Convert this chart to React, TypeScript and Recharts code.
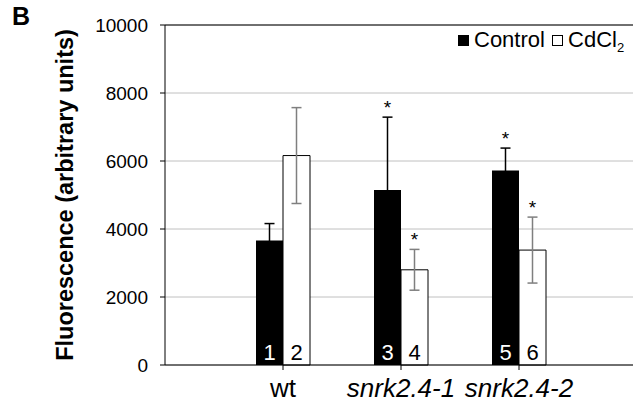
import {
  BarChart, Bar, XAxis, YAxis, CartesianGrid, ErrorBar,
  LabelList, ReferenceLine, Legend,
} from 'recharts'

// ── data ───────────────────────────────────────────────────────────
const categories = ['wt', 'snrk2.4-1', 'snrk2.4-2']
const control = [3660, 5150, 5720]
const controlErr = [500, 2140, 660]
const cdcl2 = [6160, 2800, 3380]
const cdcl2Err = [1410, 600, 970]
const controlSig = [false, true, true]
const cdcl2Sig = [false, true, true]
const controlNo = ['1', '3', '5']
const cdcl2No = ['2', '4', '6']
const yTicks = [0, 2000, 4000, 6000, 8000, 10000]

const FONT = '"Liberation Sans", Arial, sans-serif'

const data = categories.map((c, i) => ({
  name: c,
  control: control[i],
  controlErr: controlErr[i],
  cdcl2: cdcl2[i],
  cdcl2Err: cdcl2Err[i],
}))

// category tick: genotype names in italics, "wt" upright
function CatTick({ x, y, payload }: { x?: number; y?: number; payload?: { value: string } }) {
  if (x == null || y == null || !payload) return null
  const italic = payload.value.startsWith('snrk')
  return (
    <text x={x} y={y + 25} textAnchor="middle" fill="#000"
      style={{ fontSize: 26, fontFamily: FONT, fontStyle: italic ? 'italic' : 'normal' }}>
      {payload.value}
    </text>
  )
}

// bar number at the foot of the bar + asterisk above the error bar
function makeLabel(nums: string[], errs: number[], sig: boolean[], color: string) {
  return function BarLabel(props: any) {
    const { x, y, width, height, value, index } = props
    if (x == null || index == null) return null
    const cx = x + width / 2
    const pxPerUnit = height / value
    const capY = y - errs[index] * pxPerUnit
    return (
      <g>
        <text x={cx} y={y + height - 5} textAnchor="middle" fill={color}
          style={{ fontSize: 22, fontFamily: FONT }}>
          {nums[index]}
        </text>
        {sig[index] && (
          <text x={cx} y={capY - 3} textAnchor="middle" fill="#000"
            style={{ fontSize: 19, fontFamily: FONT }}>
            *
          </text>
        )}
      </g>
    )
  }
}

function LegendBox() {
  const box = (fill: string) => (
    <span style={{
      display: 'inline-block', width: 9, height: 9, background: fill,
      border: '1px solid #000', marginRight: 5, verticalAlign: 'middle',
      position: 'relative', top: -1,
    }} />
  )
  return (
    <div style={{ fontFamily: FONT, fontSize: 22, color: '#000', whiteSpace: 'nowrap' }}>
      {box('#000')}Control <span style={{ marginLeft: 1 }} />{box('#fff')}CdCl<sub style={{ fontSize: 13 }}>2</sub>
    </div>
  )
}

export default function App() {
  return (
    <div style={{ position: 'absolute', left: 0, top: 0, width: 633, height: 402, background: '#fff' }}>
      <BarChart
        width={633}
        height={402}
        data={data}
        margin={{ top: 25, right: 0, left: 0, bottom: 0 }}
        barGap={0}
        barSize={27}
      >
        <CartesianGrid vertical={false} stroke="#c0c0c0" />
        <XAxis
          dataKey="name"
          height={37}
          padding={{ left: 59, right: 55 }}
          axisLine={{ stroke: '#000' }}
          tickLine={{ stroke: '#000' }}
          tickSize={5}
          tick={<CatTick />}
          interval={0}
        />
        <YAxis
          width={165}
          domain={[0, 10000]}
          ticks={yTicks}
          axisLine={{ stroke: '#000' }}
          tickLine={{ stroke: '#000' }}
          tickSize={5}
          tickMargin={12}
          tick={{ fill: '#000', fontSize: 19, fontFamily: FONT }}
          label={{
            content: () => (
              <text x={65} y={195} transform="rotate(-90 65 195)" textAnchor="middle"
                dominantBaseline="central" fill="#000"
                style={{ fontSize: 23.5, fontWeight: 'bold', fontFamily: FONT }}>
                Fluorescence (arbitrary units)
              </text>
            ),
          }}
        />
        <ReferenceLine y={10000} stroke="#000" />
        <Legend
          layout="horizontal"
          verticalAlign="middle"
          align="center"
          content={<LegendBox />}
          wrapperStyle={{ left: 458, top: 27, width: 180, height: 30 }}
        />
        <Bar dataKey="control" name="Control" fill="#000" isAnimationActive={false}>
          <ErrorBar dataKey="controlErr" width={5} stroke="#000" strokeWidth={1.5} isAnimationActive={false} />
          <LabelList dataKey="control" content={makeLabel(controlNo, controlErr, controlSig, '#fff')} />
        </Bar>
        <Bar dataKey="cdcl2" name="CdCl2" fill="#fff" stroke="#000" strokeWidth={1} isAnimationActive={false}>
          <ErrorBar dataKey="cdcl2Err" width={5} stroke="#7f7f7f" strokeWidth={1.5} isAnimationActive={false} />
          <LabelList dataKey="cdcl2" content={makeLabel(cdcl2No, cdcl2Err, cdcl2Sig, '#000')} />
        </Bar>
      </BarChart>
      <div style={{
        position: 'absolute', left: 12, top: 2, fontFamily: FONT, fontWeight: 'bold',
        fontSize: 25, color: '#000',
      }}>B</div>
    </div>
  )
}
